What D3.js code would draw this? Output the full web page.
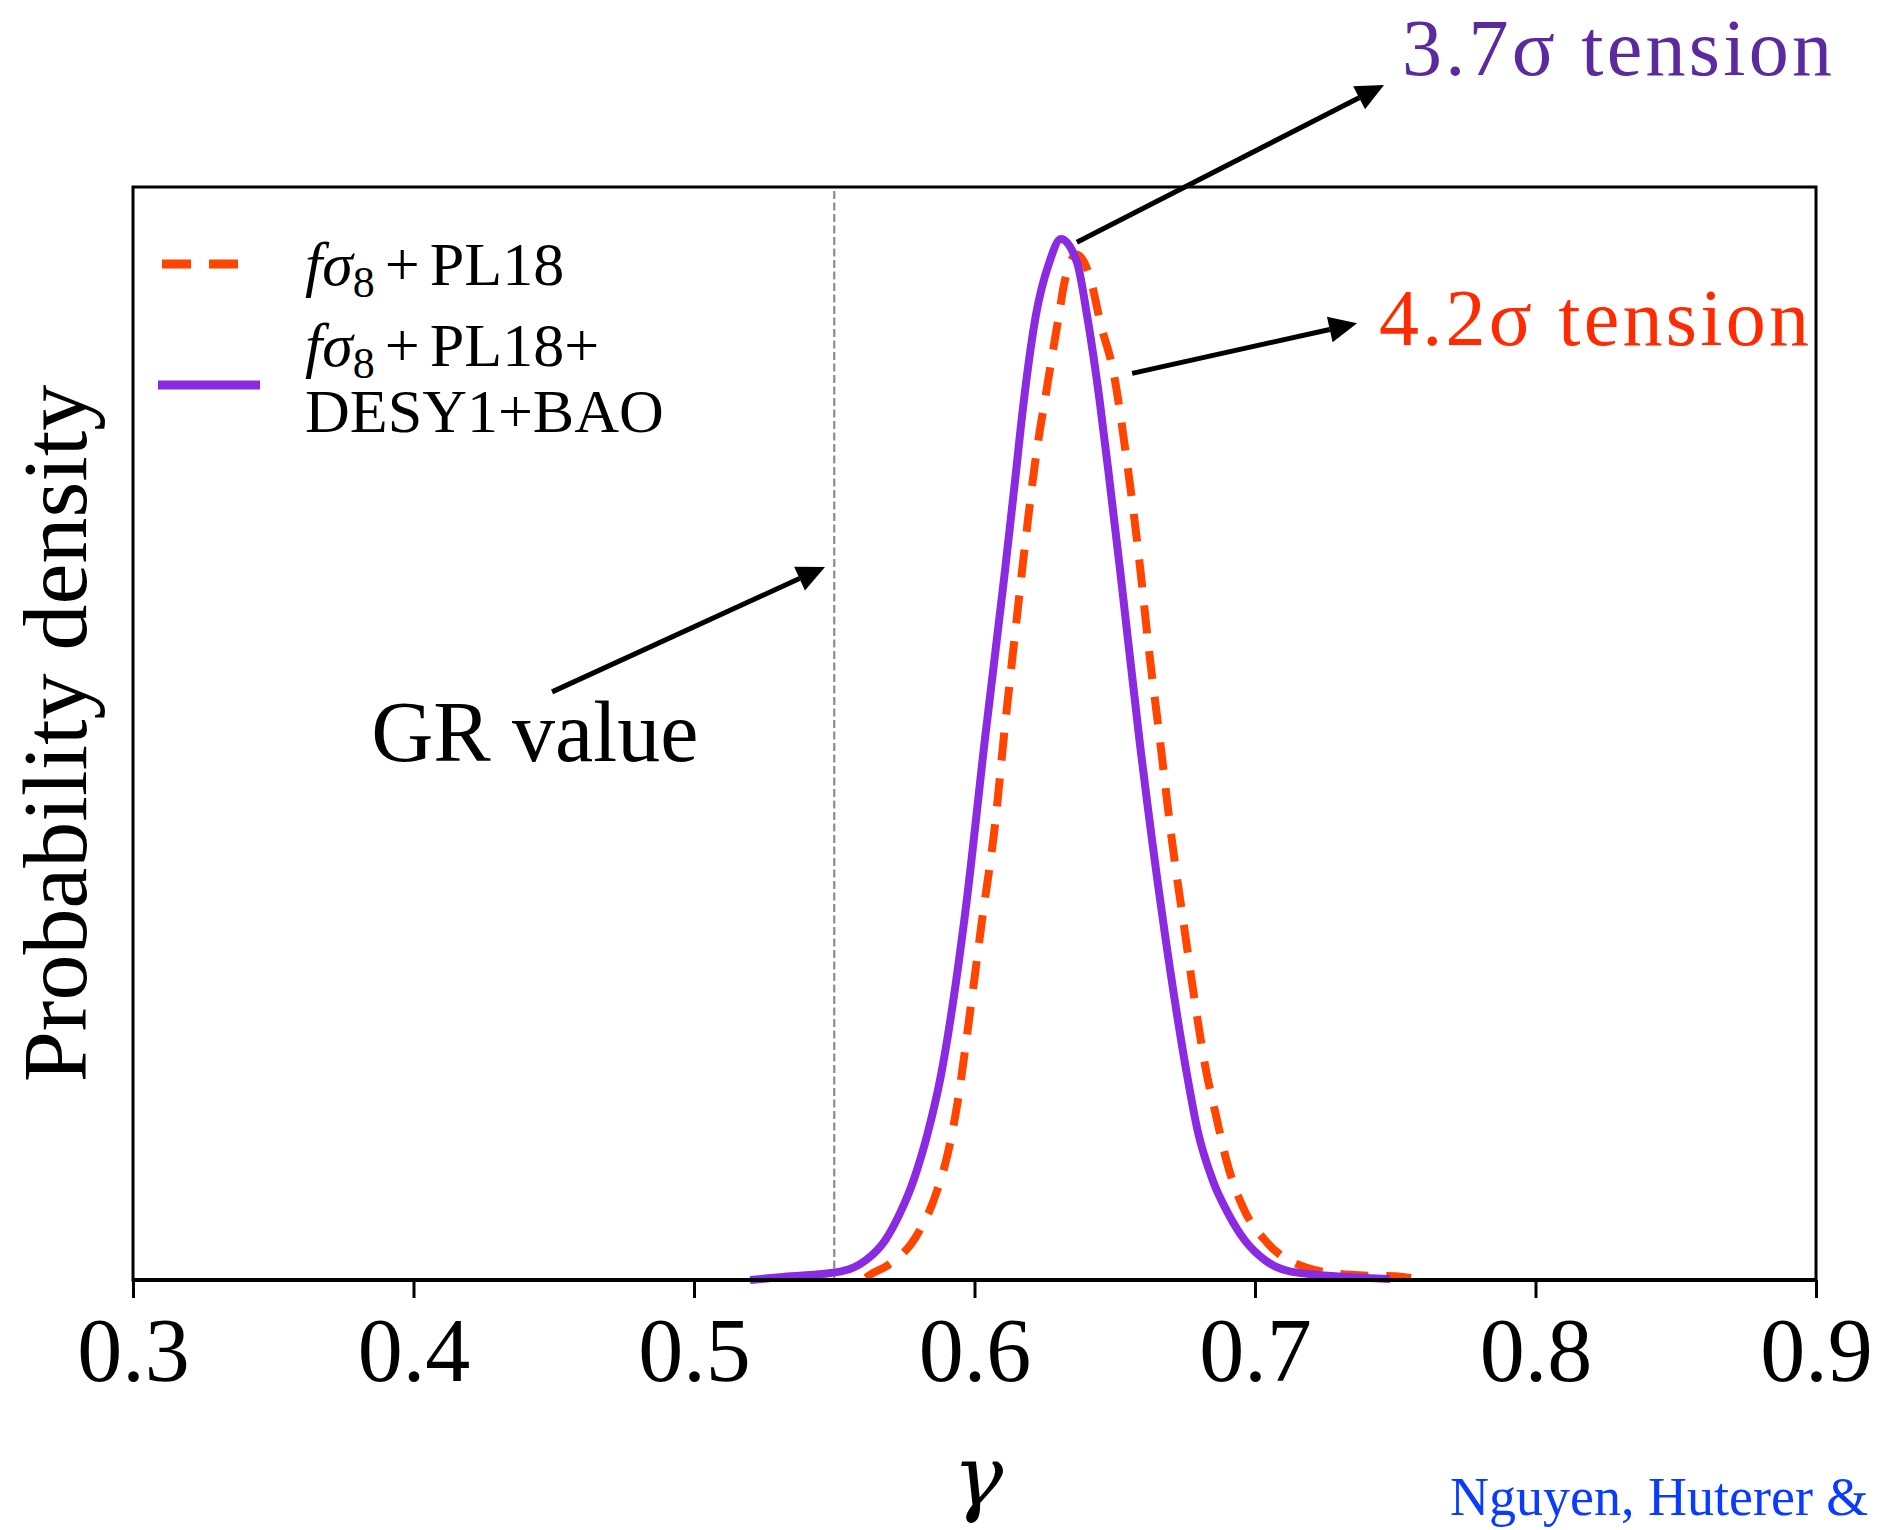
<!DOCTYPE html>
<html>
<head>
<meta charset="utf-8">
<script src="https://cdn.jsdelivr.net/npm/d3@7"></script>
<style>
  body { margin: 0; background: #fff; }
  svg { display: block; font-family: "Liberation Serif", "DejaVu Serif", serif; }
</style>
</head>
<body>
<svg id="chart" width="1881" height="1530"></svg>
<script>
// values (density normalised to the purple peak)
var xTicks = [0.3, 0.4, 0.5, 0.6, 0.7, 0.8, 0.9];
var grValue = 0.55;

var purpleGamma = [0.5200, 0.5317, 0.5521, 0.5613, 0.5681, 0.5734, 0.5783, 0.5836, 0.5877, 0.5968, 0.6037,
    0.6109, 0.6143, 0.6176, 0.6219, 0.6266, 0.6308, 0.6366, 0.6401, 0.6446, 0.6483, 0.6519, 0.6588,
    0.6667, 0.6761, 0.6795, 0.6849, 0.6904, 0.6964, 0.7036, 0.7128, 0.7328, 0.7481];
var purpleDensity = [0.000, 0.003, 0.008, 0.019, 0.038, 0.064, 0.096, 0.144, 0.192, 0.355, 0.519,
    0.682, 0.764, 0.845, 0.927, 0.977, 1.000, 0.977, 0.927, 0.845, 0.764, 0.682, 0.519,
    0.355, 0.192, 0.144, 0.096, 0.064, 0.038, 0.019, 0.008, 0.003, 0.001];

var redGamma = [0.5613, 0.5628, 0.5690, 0.5790, 0.5859, 0.5906, 0.5938, 0.5984, 0.6027, 0.6073, 0.6107,
    0.6143, 0.6180, 0.6221, 0.6255, 0.6298, 0.6322, 0.6365, 0.6412, 0.6451, 0.6494, 0.6544, 0.6586,
    0.6622, 0.6661, 0.6702, 0.6749, 0.6797, 0.6825, 0.6861, 0.6900, 0.6957, 0.7043, 0.7182, 0.7342,
    0.7528, 0.7556];
var redDensity = [0.002, 0.005, 0.014, 0.041, 0.080, 0.123, 0.168, 0.257, 0.346, 0.437, 0.528,
    0.617, 0.706, 0.795, 0.852, 0.922, 0.960, 0.985, 0.963, 0.917, 0.874, 0.785, 0.695,
    0.605, 0.519, 0.426, 0.336, 0.247, 0.202, 0.158, 0.113, 0.070, 0.036, 0.012, 0.005,
    0.003, 0.002];

// annotations: arrow tail, arrow tip and text anchor, in data units
var annoText = ["3.7σ tension", "4.2σ tension", "GR value"];
var annoTail = [[0.6365, 0.997], [0.6562, 0.871], [0.4494, 0.565]];
var annoTip = [[0.7460, 1.148], [0.7364, 0.919], [0.5467, 0.685]];
var annoAt = [[0.7524, 1.158], [0.7442, 0.898], [0.3849, 0.4986]];
var annoColor = ["#5b2a9e", "#ff2a00", "#000"];
var annoSize = [80, 80, 86];
var annoWidth = [430, 430, null];

var padL = 133, padR = 1816, padT = 187, padB = 1280;

var svg = d3.select("#chart");

var x = d3.scaleLinear().domain([0.3, 0.9]).range([padL, padR]);
var y = d3.scaleLinear().domain([0, 1.05]).range([padB, padT]);

var line = d3.line()
    .x(function (d) { return x(d[0]); })
    .y(function (d) { return y(d[1]); })
    .curve(d3.curveMonotoneX);

// GR line
svg.append("line")
    .attr("x1", x(grValue)).attr("x2", x(grValue))
    .attr("y1", y(0)).attr("y2", y(1.05))
    .style("stroke", "#8c8c8c")
    .style("stroke-width", 2.2)
    .style("stroke-dasharray", "8,3.5");

svg.append("path")
    .datum(d3.zip(redGamma, redDensity))
    .attr("d", line)
    .style("fill", "none")
    .style("stroke", "#ff4500")
    .style("stroke-width", 8)
    .style("stroke-dasharray", "28,18");

svg.append("path")
    .datum(d3.zip(purpleGamma, purpleDensity))
    .attr("d", line)
    .style("fill", "none")
    .style("stroke", "#8a2be2")
    .style("stroke-width", 8);

// frame
svg.append("rect")
    .attr("x", padL).attr("y", padT)
    .attr("width", padR - padL).attr("height", padB - padT)
    .style("fill", "none")
    .style("stroke", "#000")
    .style("stroke-width", 3);
svg.append("line")
    .attr("x1", padL).attr("x2", padR).attr("y1", padB).attr("y2", padB)
    .style("stroke", "#000")
    .style("stroke-width", 4);

var xAxis = svg.append("g")
    .attr("transform", "translate(0," + padB + ")")
    .call(d3.axisBottom(x).tickValues(xTicks).tickSize(18).tickPadding(19).tickFormat(d3.format(".1f")));
xAxis.select(".domain").remove();
xAxis.selectAll(".tick line").style("stroke", "#000").style("stroke-width", 3);
xAxis.selectAll(".tick text")
    .style("font-family", "Liberation Serif")
    .style("font-size", "90px")
    .style("fill", "#000");

svg.append("text")
    .attr("x", 978).attr("y", 1505)
    .attr("text-anchor", "middle")
    .style("font-family", "DejaVu Serif")
    .style("font-size", "84px")
    .style("font-style", "italic")
    .text("γ");

svg.append("text")
    .attr("transform", "translate(86," + ((padT + padB) / 2) + ") rotate(-90)")
    .attr("text-anchor", "middle")
    .style("font-size", "92px")
    .text("Probability density");

svg.append("text")
    .attr("x", 1450).attr("y", 1515)
    .style("font-size", "54px")
    .style("fill", "#0a3cff")
    .text("Nguyen, Huterer &");

// arrows + labels
function drawArrow(x1, y1, x2, y2) {
    var dx = x2 - x1, dy = y2 - y1;
    var len = Math.sqrt(dx * dx + dy * dy);
    var ux = dx / len, uy = dy / len;
    var hl = 28, hw = 13;
    var bx = x2 - ux * hl, by = y2 - uy * hl;
    svg.append("line")
        .attr("x1", x1).attr("y1", y1)
        .attr("x2", bx).attr("y2", by)
        .style("stroke", "#000")
        .style("stroke-width", 5);
    svg.append("path")
        .attr("d", "M" + x2 + "," + y2 +
            "L" + (bx - uy * hw) + "," + (by + ux * hw) +
            "L" + (bx + uy * hw) + "," + (by - ux * hw) + "Z")
        .style("fill", "#000");
}

annoText.forEach(function (t, i) {
    drawArrow(x(annoTail[i][0]), y(annoTail[i][1]), x(annoTip[i][0]), y(annoTip[i][1]));
    var txt = svg.append("text")
        .attr("x", x(annoAt[i][0])).attr("y", y(annoAt[i][1]))
        .style("font-size", annoSize[i] + "px")
        .style("fill", annoColor[i])
        .text(t);
    if (annoWidth[i]) txt.attr("textLength", annoWidth[i]).attr("lengthAdjust", "spacing");
});

// legend
var legend = svg.append("g");
legend.append("line")
    .attr("x1", 162).attr("x2", 238).attr("y1", 264).attr("y2", 264)
    .style("stroke", "#ff4500").style("stroke-width", 9)
    .style("stroke-dasharray", "29,18");
legend.append("line")
    .attr("x1", 158).attr("x2", 260).attr("y1", 385).attr("y2", 385)
    .style("stroke", "#8a2be2").style("stroke-width", 9);

function fsigma(sel, tail) {
    sel.append("tspan").style("font-style", "italic").text("fσ");
    sel.append("tspan").attr("dy", 12).style("font-size", "44px").text("8");
    sel.append("tspan").attr("dy", -12).attr("dx", 10).text("+");
    sel.append("tspan").attr("dx", 10).text(tail);
}

var l1 = legend.append("text").attr("x", 305).attr("y", 285).style("font-size", "62px");
fsigma(l1, "PL18");
var l2 = legend.append("text").attr("x", 305).attr("y", 366).style("font-size", "62px");
fsigma(l2, "PL18+");
legend.append("text").attr("x", 305).attr("y", 432).style("font-size", "62px").text("DESY1+BAO");
</script>
</body>
</html>
